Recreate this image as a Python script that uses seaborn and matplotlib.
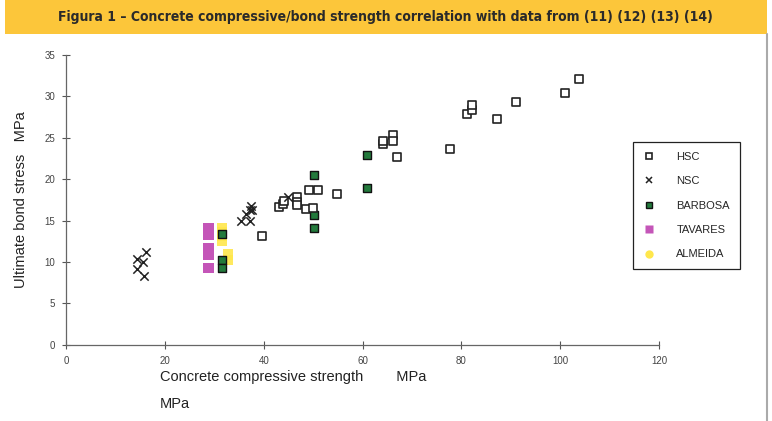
import matplotlib
matplotlib.use('Agg')
import matplotlib.pyplot as plt
from matplotlib.lines import Line2D
from matplotlib.patches import Rectangle
import seaborn as sns
import pandas as pd

sns.set_theme(style='white')
plt.rcParams['font.family'] = ['Liberation Sans', 'DejaVu Sans']

# valores (MPa)
hsc_x = [39.6, 43.1, 43.8, 44.1, 46.8, 46.8, 46.8, 48.5, 49.1, 50.0, 51.0, 54.9,
         64.2, 64.2, 66.1, 66.1, 67.0, 77.7, 81.2, 82.1, 82.1, 87.3, 91.1, 100.9, 103.9]
hsc_y = [13.1, 16.6, 17.0, 17.4, 17.8, 17.3, 16.9, 16.4, 18.7, 16.5, 18.7, 18.2,
         24.2, 24.6, 25.3, 24.6, 22.7, 23.6, 27.9, 28.3, 28.9, 27.3, 29.3, 30.4, 32.1]

nsc_x = [16.2, 14.3, 15.6, 14.3, 15.7, 35.3, 37.2, 36.4, 37.2, 37.7, 37.4, 44.9]
nsc_y = [11.2, 10.4, 10.0, 9.1, 8.3, 14.9, 14.9, 15.8, 16.3, 16.3, 16.7, 17.8]

barbosa_x = [50.2, 50.2, 50.2, 60.8, 60.8, 31.5, 31.5, 31.5]
barbosa_y = [20.5, 15.7, 14.1, 22.9, 18.9, 13.4, 10.2, 9.3]

tavares_x = [28.8, 28.8, 28.8, 28.8, 28.8, 28.8, 28.8]
tavares_y = [14.1, 13.7, 13.3, 11.7, 11.3, 10.9, 9.3]

almeida_x = [31.5, 31.5, 31.5, 31.5, 32.8, 32.8]
almeida_y = [14.1, 13.6, 13.1, 12.6, 10.9, 10.2]

fig = plt.figure(figsize=(7.72, 4.21), dpi=100)

# banda del título
fig.patches.append(Rectangle((5/772, 1-34/421), 762/772, 34/421, transform=fig.transFigure,
                             facecolor='#fcc63a', edgecolor='none', zorder=0))
fig.text(385/772, 1-17/421, 'Figura 1 – Concrete compressive/bond strength correlation with data from (11) (12) (13) (14)',
         ha='center', va='center', fontsize=10, fontweight='bold', color='#2a2a2a',
         family=['DejaVu Sans'], fontstretch='condensed')
fig.add_artist(Line2D([767/772, 767/772], [0, 1-34/421], transform=fig.transFigure,
                      color='#aaaaaa', lw=1.5))

ax = fig.add_axes([66.2/772, 1-344.7/421, (659-66.2)/772, (344.7-55)/421])

sns.scatterplot(x=almeida_x, y=almeida_y, marker='s', color='#ffe74c', edgecolor='none',
                s=55, alpha=0.9, ax=ax, zorder=2)
sns.scatterplot(x=tavares_x, y=tavares_y, marker='s', color='#c455b8', edgecolor='none',
                s=55, ax=ax, zorder=2)
sns.scatterplot(x=barbosa_x, y=barbosa_y, marker='s', color='#237a3c', edgecolor='#111111',
                linewidth=1.0, s=32, ax=ax, zorder=3)
sns.scatterplot(x=hsc_x, y=hsc_y, marker='s', color='white', edgecolor='#222222',
                linewidth=1.2, s=36, ax=ax, zorder=3)
sns.scatterplot(x=nsc_x, y=nsc_y, marker='x', color='#222222', linewidth=1.1,
                s=36, ax=ax, zorder=3)

ax.set_xlim(0, 120)
ax.set_ylim(0, 35)
ax.set_xticks(range(0, 121, 20))
ax.set_yticks(range(0, 36, 5))
ax.tick_params(axis='both', direction='inout', length=6, width=0.8, color='#555555',
               labelsize=7, labelcolor='#444444', pad=5, left=True, bottom=True)
sns.despine(ax=ax)
for sp in ['left', 'bottom']:
    ax.spines[sp].set_color('#666666')
    ax.spines[sp].set_linewidth(0.9)

ax.set_ylabel('Ultimate bond stress   MPa', fontsize=10.5, color='#222222', labelpad=12)
fig.text(160/772, 1-377/421, 'Concrete compressive strength        MPa',
         ha='left', va='center', fontsize=10.5, color='#222222')
fig.text(160/772, 1-404/421, 'MPa', ha='left', va='center', fontsize=10.5, color='#222222')

handles = [
    Line2D([], [], ls='none', marker='s', mfc='white', mec='#222222', mew=1.2, ms=5),
    Line2D([], [], ls='none', marker='x', color='#222222', mew=1.1, ms=5),
    Line2D([], [], ls='none', marker='s', mfc='#237a3c', mec='#111111', mew=1.0, ms=5),
    Line2D([], [], ls='none', marker='s', mfc='#c455b8', mec='none', ms=6),
    Line2D([], [], ls='none', marker='o', mfc='#ffe74c', mec='none', ms=6),
]
labels = ['HSC', 'NSC', 'BARBOSA', 'TAVARES', 'ALMEIDA']
leg = ax.legend(handles, labels, loc='upper left', bbox_to_anchor=(633/772, 1-141.7/421),
                bbox_transform=fig.transFigure, fontsize=8, frameon=True, fancybox=False,
                edgecolor='#222222', framealpha=1, labelspacing=1.3, handletextpad=2.0,
                borderpad=0.9, handlelength=1.0, borderaxespad=0)
leg.get_frame().set_linewidth(0.9)

plt.savefig('out.png', dpi=100)
